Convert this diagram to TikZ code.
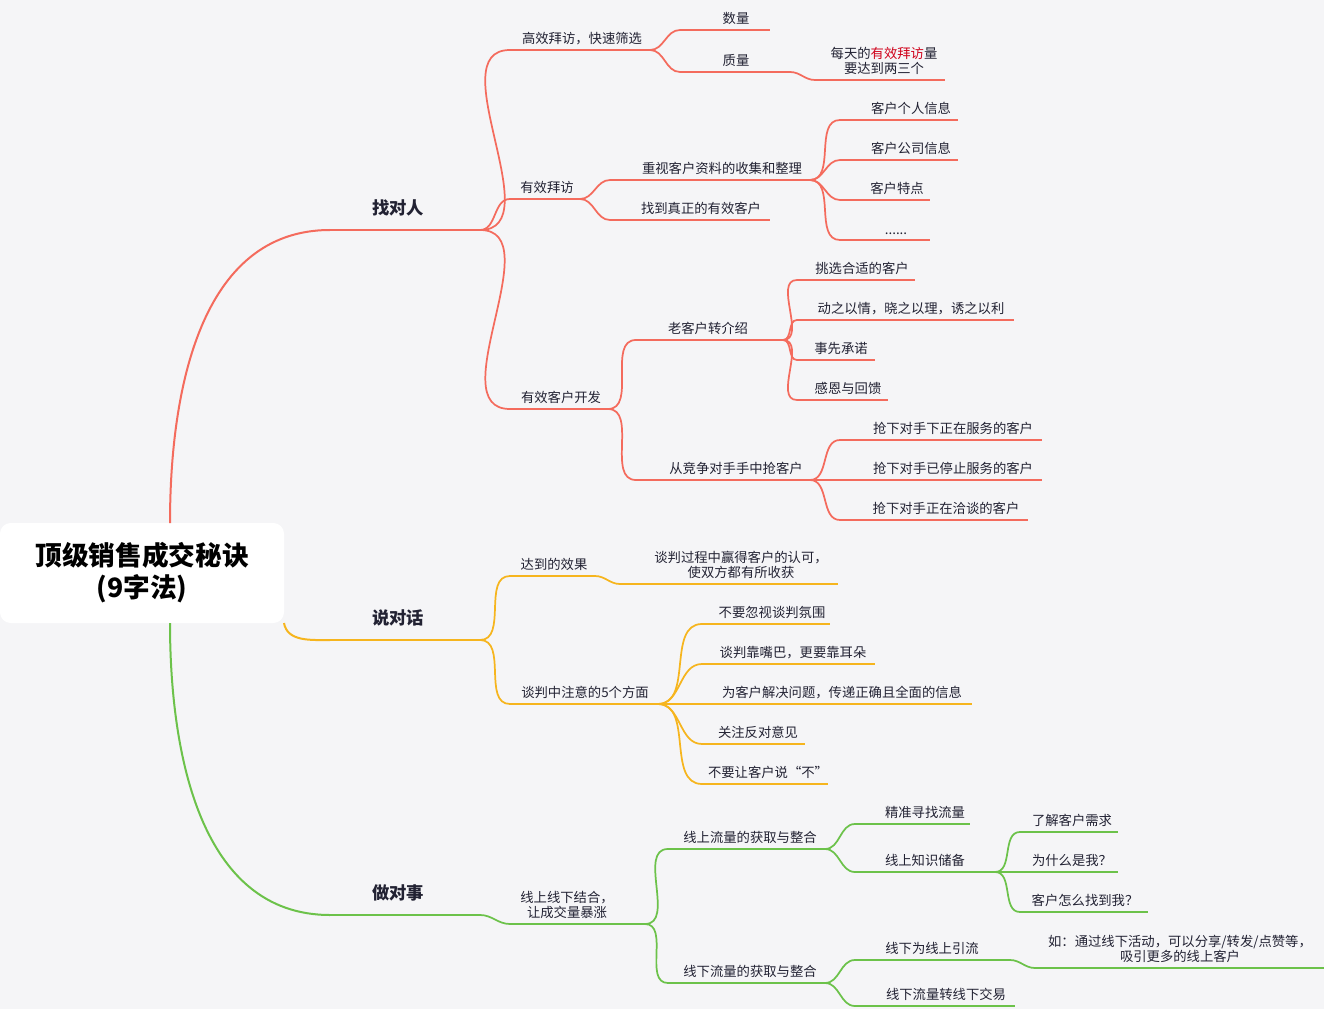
\documentclass[tikz,border=0pt]{standalone}
\usepackage{fontspec}
\setmainfont{Noto Sans CJK SC}
\definecolor{bg}{HTML}{F5F5F7}
\definecolor{cr}{HTML}{F46B5D}
\definecolor{co}{HTML}{F6B51E}
\definecolor{cg}{HTML}{6CC24A}
\definecolor{hl}{HTML}{D0021B}
\definecolor{tx}{HTML}{222233}
\newcommand\tp[7]{%
\coordinate (#1-s) at (#2,#4); \coordinate (#1-e) at (#3,#4);
\draw[#5,line width=1.3] (#1-s)--(#1-e);
\node[font=\fontsize{10}{11.5}\selectfont,text=tx,align=center,anchor=south,inner sep=0pt] (#1) at (#6,#4-5) {#7};}
\newcommand\lk[3]{\draw[#3,line width=1.3] (#1-e) to[out=0,in=180] (#2-s);}
\begin{document}
\begin{tikzpicture}[x=0.75pt,y=-0.75pt]
\fill[bg] (0,0) rectangle (1324,1009);
\useasboundingbox (0,0) rectangle (1324,1009);
\node[fill=white,rounded corners=8pt,minimum width=284*0.75pt,minimum height=100*0.75pt,inner sep=0pt,align=center,font=\fontsize{20}{24}\selectfont\bfseries,text=black] (root) at (142,573) {顶级销售成交秘诀\\(9字法)};
\coordinate (rt) at (170,523); \coordinate (rr) at (284,623); \coordinate (rb) at (170,623);
% level 1
\newcommand\lone[5]{\coordinate (#1-s) at (330,#2); \coordinate (#1-e) at (480,#2);
\draw[#3,line width=1.5] (#1-s)--(#1-e);
\node[font=\fontsize{13}{15}\selectfont\bfseries,text=tx,anchor=south,inner sep=0pt] (#1) at (398,#2-14) {#4};}
\lone{a}{230}{cr}{找对人}{}
\lone{b}{640}{co}{说对话}{}
\lone{c}{915}{cg}{做对事}{}
\draw[cr,line width=1.5] (rt) to[out=90,in=180] (a-s);
\draw[co,line width=1.5] (rr) to[out=-80,in=180] (b-s);
\draw[cg,line width=1.5] (rb) to[out=-90,in=180] (c-s);
% red
\tp{a1}{510}{650}{50}{cr}{582}{高效拜访，快速筛选}
\tp{a2}{510}{580}{199}{cr}{547}{有效拜访}
\tp{a3}{510}{608}{409}{cr}{561}{有效客户开发}
\lk{a}{a1}{cr}\lk{a}{a2}{cr}\lk{a}{a3}{cr}
\tp{a11}{680}{770}{30}{cr}{736}{数量}
\tp{a12}{680}{790}{72}{cr}{736}{质量}
\lk{a1}{a11}{cr}\lk{a1}{a12}{cr}
\tp{a121}{815}{945}{80}{cr}{884}{每天的\textcolor{hl}{有效拜访}量\\要达到两三个}
\lk{a12}{a121}{cr}
\tp{a21}{610}{810}{180}{cr}{722}{重视客户资料的收集和整理}
\tp{a22}{610}{770}{220}{cr}{701}{找到真正的有效客户}
\lk{a2}{a21}{cr}\lk{a2}{a22}{cr}
\tp{a211}{840}{958}{120}{cr}{911}{客户个人信息}
\tp{a212}{840}{958}{160}{cr}{911}{客户公司信息}
\tp{a213}{840}{930}{200}{cr}{897}{客户特点}
\tp{a214}{840}{930}{240}{cr}{896}{......}
\lk{a21}{a211}{cr}\lk{a21}{a212}{cr}\lk{a21}{a213}{cr}\lk{a21}{a214}{cr}
\tp{a31}{636}{783}{340}{cr}{708}{老客户转介绍}
\tp{a32}{636}{810}{480}{cr}{736}{从竞争对手手中抢客户}
\lk{a3}{a31}{cr}\lk{a3}{a32}{cr}
\tp{a311}{797}{915}{280}{cr}{862}{挑选合适的客户}
\tp{a312}{797}{1014}{320}{cr}{911}{动之以情，晓之以理，诱之以利}
\tp{a313}{797}{875}{360}{cr}{841}{事先承诺}
\tp{a314}{797}{888}{400}{cr}{848}{感恩与回馈}
\lk{a31}{a311}{cr}\lk{a31}{a312}{cr}\lk{a31}{a313}{cr}\lk{a31}{a314}{cr}
\tp{a321}{840}{1042}{440}{cr}{953}{抢下对手下正在服务的客户}
\tp{a322}{840}{1042}{480}{cr}{953}{抢下对手已停止服务的客户}
\tp{a323}{840}{1028}{520}{cr}{946}{抢下对手正在洽谈的客户}
\lk{a32}{a321}{cr}\lk{a32}{a322}{cr}\lk{a32}{a323}{cr}
% orange
\tp{b1}{510}{595}{576}{co}{554}{达到的效果}
\tp{b2}{510}{658}{704}{co}{585}{谈判中注意的5个方面}
\lk{b}{b1}{co}\lk{b}{b2}{co}
\tp{b11}{620}{838}{584}{co}{741}{谈判过程中赢得客户的认可，\\使双方都有所收获}
\lk{b1}{b11}{co}
\tp{b21}{702}{830}{624}{co}{772}{不要忽视谈判氛围}
\tp{b22}{702}{875}{664}{co}{793}{谈判靠嘴巴，更要靠耳朵}
\tp{b23}{702}{972}{704}{co}{842}{为客户解决问题，传递正确且全面的信息}
\tp{b24}{702}{805}{744}{co}{758}{关注反对意见}
\tp{b25}{702}{828}{784}{co}{768}{不要让客户说“不”}
\lk{b2}{b21}{co}\lk{b2}{b22}{co}\lk{b2}{b23}{co}\lk{b2}{b24}{co}\lk{b2}{b25}{co}
% green
\tp{c1}{510}{645}{924}{cg}{567}{线上线下结合，\\让成交量暴涨}
\lk{c}{c1}{cg}
\tp{c11}{668}{825}{849}{cg}{750}{线上流量的获取与整合}
\tp{c12}{668}{825}{983}{cg}{750}{线下流量的获取与整合}
\lk{c1}{c11}{cg}\lk{c1}{c12}{cg}
\tp{c111}{855}{970}{824}{cg}{925}{精准寻找流量}
\tp{c112}{855}{995}{872}{cg}{925}{线上知识储备}
\lk{c11}{c111}{cg}\lk{c11}{c112}{cg}
\tp{c1121}{1020}{1118}{832}{cg}{1072}{了解客户需求}
\tp{c1122}{1020}{1118}{872}{cg}{1072}{为什么是我？}
\tp{c1123}{1020}{1148}{912}{cg}{1085}{客户怎么找到我？}
\lk{c112}{c1121}{cg}\lk{c112}{c1122}{cg}\lk{c112}{c1123}{cg}
\tp{c121}{855}{1010}{960}{cg}{932}{线下为线上引流}
\tp{c122}{855}{1015}{1006}{cg}{946}{线下流量转线下交易}
\lk{c12}{c121}{cg}\lk{c12}{c122}{cg}
\tp{c1211}{1035}{1324}{968}{cg}{1180}{如：通过线下活动，可以分享/转发/点赞等，\\吸引更多的线上客户}
\lk{c121}{c1211}{cg}
\end{tikzpicture}
\end{document}
